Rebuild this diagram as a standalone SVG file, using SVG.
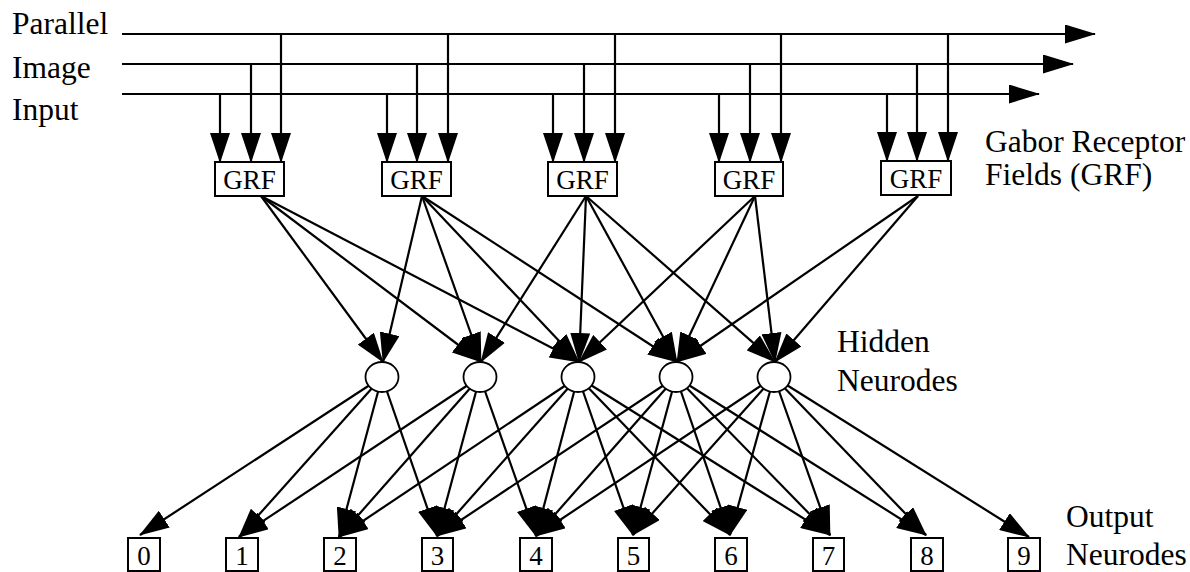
<svg xmlns="http://www.w3.org/2000/svg" width="1190" height="572" viewBox="0 0 1190 572">
  <style>
    .lbl { font-family: "Liberation Serif", "Times New Roman", serif; font-size: 31.5px; fill: #000; }
    .grf { font-family: "Liberation Serif", "Times New Roman", serif; font-size: 27px; fill: #000; text-anchor: middle; }
    .dig { font-family: "Liberation Serif", "Times New Roman", serif; font-size: 27px; fill: #000; text-anchor: middle; }
    .box { fill: #fff; stroke: #000; stroke-width: 2; }
    .neu { fill: #fff; stroke: #000; stroke-width: 1.8; }
    .wire { stroke: #000; stroke-width: 2.2; fill: none; }
    .arr { marker-end: url(#ah); }
    .bus { marker-end: url(#ahw); }
  </style>
  <defs>
    <marker id="ah" markerUnits="userSpaceOnUse" markerWidth="30" markerHeight="20" viewBox="0 0 30 20" refX="29" refY="10" orient="auto">
      <path d="M0,0 L30,10 L0,20 z" fill="#000"/>
    </marker>
    <marker id="ahw" markerUnits="userSpaceOnUse" markerWidth="31" markerHeight="19" viewBox="0 0 31 19" refX="30" refY="9.5" orient="auto">
      <path d="M0,0 L31,9.5 L0,19 z" fill="#000"/>
    </marker>
  </defs>
  <rect width="1190" height="572" fill="#fff"/>

  <!-- labels -->
  <g id="labels">
    <text class="lbl" x="12" y="34">Parallel</text>
    <text class="lbl" x="12" y="78">Image</text>
    <text class="lbl" x="12" y="120">Input</text>
    <text class="lbl" x="985" y="152">Gabor Receptor</text>
    <text class="lbl" x="985" y="185">Fields (GRF)</text>
    <text class="lbl" x="837" y="352">Hidden</text>
    <text class="lbl" x="837" y="391">Neurodes</text>
    <text class="lbl" x="1066" y="527">Output</text>
    <text class="lbl" x="1066" y="565">Neurodes</text>
  </g>

  <g id="connectors" class="wire">
    <!-- input buses -->
    <line class="bus" x1="122" y1="34" x2="1095" y2="34"/>
    <line class="bus" x1="122" y1="64" x2="1073" y2="64"/>
    <line class="bus" x1="122" y1="94" x2="1039" y2="94"/>
    <!-- bus taps into each GRF -->
    <line class="arr" x1="220" y1="94" x2="220" y2="162"/>
    <line class="arr" x1="251" y1="64" x2="251" y2="162"/>
    <line class="arr" x1="281" y1="34" x2="281" y2="162"/>
    <line class="arr" x1="387" y1="94" x2="387" y2="162"/>
    <line class="arr" x1="417" y1="64" x2="417" y2="162"/>
    <line class="arr" x1="448" y1="34" x2="448" y2="162"/>
    <line class="arr" x1="553" y1="94" x2="553" y2="162"/>
    <line class="arr" x1="584" y1="64" x2="584" y2="162"/>
    <line class="arr" x1="615" y1="34" x2="615" y2="162"/>
    <line class="arr" x1="719" y1="94" x2="719" y2="162"/>
    <line class="arr" x1="750" y1="64" x2="750" y2="162"/>
    <line class="arr" x1="781" y1="34" x2="781" y2="162"/>
    <line class="arr" x1="887" y1="94" x2="887" y2="161"/>
    <line class="arr" x1="917" y1="64" x2="917" y2="161"/>
    <line class="arr" x1="948" y1="34" x2="948" y2="161"/>

    <!-- GRF to hidden -->
    <line class="arr" x1="261" y1="196" x2="383" y2="362"/>
    <line class="arr" x1="261" y1="196" x2="481" y2="362"/>
    <line class="arr" x1="261" y1="196" x2="579" y2="362"/>
    <line class="arr" x1="422" y1="196" x2="383" y2="362"/>
    <line class="arr" x1="422" y1="196" x2="481" y2="362"/>
    <line class="arr" x1="422" y1="196" x2="579" y2="362"/>
    <line class="arr" x1="422" y1="196" x2="677" y2="362"/>
    <line class="arr" x1="586" y1="196" x2="481" y2="362"/>
    <line class="arr" x1="586" y1="196" x2="579" y2="362"/>
    <line class="arr" x1="586" y1="196" x2="677" y2="362"/>
    <line class="arr" x1="586" y1="196" x2="775" y2="362"/>
    <line class="arr" x1="755" y1="196" x2="579" y2="362"/>
    <line class="arr" x1="755" y1="196" x2="677" y2="362"/>
    <line class="arr" x1="755" y1="196" x2="775" y2="362"/>
    <line class="arr" x1="918" y1="196" x2="677" y2="362"/>
    <line class="arr" x1="918" y1="196" x2="775" y2="362"/>

    <!-- hidden to output -->
    <line class="arr" x1="382" y1="377" x2="140" y2="535"/>
    <line class="arr" x1="382" y1="377" x2="239" y2="537"/>
    <line class="arr" x1="382" y1="377" x2="339" y2="537"/>
    <line class="arr" x1="382" y1="377" x2="437" y2="536"/>

    <line class="arr" x1="480" y1="377" x2="239" y2="537"/>
    <line class="arr" x1="480" y1="377" x2="339" y2="537"/>
    <line class="arr" x1="480" y1="377" x2="437" y2="536"/>
    <line class="arr" x1="480" y1="377" x2="536" y2="536"/>

    <line class="arr" x1="578" y1="377" x2="339" y2="537"/>
    <line class="arr" x1="578" y1="377" x2="437" y2="536"/>
    <line class="arr" x1="578" y1="377" x2="536" y2="536"/>
    <line class="arr" x1="578" y1="377" x2="633" y2="535"/>
    <line class="arr" x1="578" y1="377" x2="730" y2="535"/>
    <line class="arr" x1="578" y1="377" x2="830" y2="535"/>

    <line class="arr" x1="676" y1="377" x2="437" y2="536"/>
    <line class="arr" x1="676" y1="377" x2="536" y2="536"/>
    <line class="arr" x1="676" y1="377" x2="633" y2="535"/>
    <line class="arr" x1="676" y1="377" x2="730" y2="535"/>
    <line class="arr" x1="676" y1="377" x2="830" y2="535"/>
    <line class="arr" x1="676" y1="377" x2="926" y2="535"/>

    <line class="arr" x1="774" y1="377" x2="536" y2="536"/>
    <line class="arr" x1="774" y1="377" x2="633" y2="535"/>
    <line class="arr" x1="774" y1="377" x2="730" y2="535"/>
    <line class="arr" x1="774" y1="377" x2="830" y2="535"/>
    <line class="arr" x1="774" y1="377" x2="926" y2="535"/>
    <line class="arr" x1="774" y1="377" x2="1029" y2="537"/>
  </g>

  <!-- Gabor receptor field units -->
  <g id="grf1"><rect class="box" x="215" y="162" width="69" height="34"/><text class="grf" x="249.5" y="189">GRF</text></g>
  <g id="grf2"><rect class="box" x="382" y="162" width="69" height="34"/><text class="grf" x="416.5" y="189">GRF</text></g>
  <g id="grf3"><rect class="box" x="548" y="162" width="69" height="34"/><text class="grf" x="582.5" y="189">GRF</text></g>
  <g id="grf4"><rect class="box" x="715" y="162" width="68" height="34"/><text class="grf" x="749" y="189">GRF</text></g>
  <g id="grf5"><rect class="box" x="881" y="161" width="70" height="34"/><text class="grf" x="916" y="188">GRF</text></g>

  <!-- hidden neurodes -->
  <g id="hidden1"><ellipse class="neu" cx="382" cy="377" rx="16.5" ry="15"/></g>
  <g id="hidden2"><ellipse class="neu" cx="480" cy="377" rx="16.5" ry="15"/></g>
  <g id="hidden3"><ellipse class="neu" cx="578" cy="377" rx="16.5" ry="15"/></g>
  <g id="hidden4"><ellipse class="neu" cx="676" cy="377" rx="16.5" ry="15"/></g>
  <g id="hidden5"><ellipse class="neu" cx="774" cy="377" rx="16.5" ry="15"/></g>

  <!-- output neurodes -->
  <g id="out0"><rect class="box" x="128" y="538" width="32" height="33"/><text class="dig" x="144" y="565">0</text></g>
  <g id="out1"><rect class="box" x="226" y="538" width="32" height="33"/><text class="dig" x="242" y="565">1</text></g>
  <g id="out2"><rect class="box" x="324" y="538" width="32" height="33"/><text class="dig" x="340" y="565">2</text></g>
  <g id="out3"><rect class="box" x="422" y="538" width="31" height="33"/><text class="dig" x="437.5" y="565">3</text></g>
  <g id="out4"><rect class="box" x="520" y="538" width="32" height="33"/><text class="dig" x="536" y="565">4</text></g>
  <g id="out5"><rect class="box" x="618" y="538" width="31" height="33"/><text class="dig" x="633.5" y="565">5</text></g>
  <g id="out6"><rect class="box" x="715" y="538" width="32" height="33"/><text class="dig" x="731" y="565">6</text></g>
  <g id="out7"><rect class="box" x="813" y="538" width="31" height="33"/><text class="dig" x="828.5" y="565">7</text></g>
  <g id="out8"><rect class="box" x="911" y="538" width="32" height="33"/><text class="dig" x="927" y="565">8</text></g>
  <g id="out9"><rect class="box" x="1008" y="538" width="32" height="33"/><text class="dig" x="1024" y="565">9</text></g>
</svg>
